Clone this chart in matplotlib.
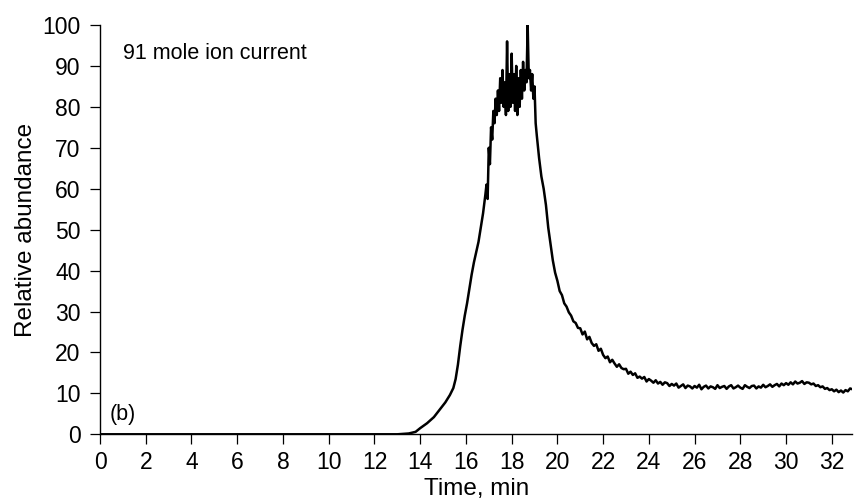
"""
91 mole ion current の時間プロファイル（相対存在量）を描く。
"""

import numpy as np
import matplotlib
matplotlib.use("Agg")
import matplotlib.pyplot as plt

matplotlib.rcParams["font.family"] = ["Liberation Sans", "DejaVu Sans"]

# ── 立ち上がり（手で読み取り）──
rise_time = [0.0, 6.0, 13.0, 13.5, 13.8, 14.0, 14.3, 14.6, 14.85, 15.1, 15.3,
             15.45, 15.55, 15.65, 15.75, 15.85, 15.95, 16.05, 16.15, 16.25,
             16.35, 16.45, 16.55, 16.65, 16.75, 16.85, 16.9, 16.95, 17.0,
             17.05, 17.1, 17.15, 17.2, 17.25, 17.3, 17.35, 17.4]
rise_val = [0.0, 0.0, 0.0, 0.2, 0.6, 1.5, 2.7, 4.2, 6.0, 7.8, 9.6,
            11.3, 13.5, 17.0, 21.5, 25.5, 29.0, 32.0, 35.5, 39.0,
            42.0, 44.5, 47.0, 50.5, 54.0, 58.5, 61.0, 57.5, 70.0,
            66.0, 75.0, 72.0, 79.0, 76.0, 82.0, 78.0, 84.0]

# ── ピーク（ノイズの多い領域）──
peak_time = [17.45, 17.5, 17.55, 17.6, 17.65, 17.7, 17.75, 17.8, 17.85, 17.9,
             17.95, 18.0, 18.05, 18.1, 18.15, 18.2, 18.25, 18.3, 18.35, 18.4,
             18.45, 18.5, 18.55, 18.6, 18.65, 18.7, 18.75, 18.8, 18.85, 18.9,
             18.95, 19.0, 19.05, 19.1]
peak_val = [79, 87, 81, 89, 80, 86, 78, 96, 79, 88,
            80, 93, 81, 88, 79, 90, 78, 87, 80, 89,
            82, 91, 84, 89, 86, 100, 87, 89, 84, 88,
            82, 85, 76, 73]

fall_time = [19.2, 19.3, 19.4, 19.5, 19.6, 19.7, 19.8, 19.9, 20.0, 20.1,
             20.2, 20.3, 20.4, 20.5, 20.6, 20.7, 20.8, 20.9]
fall_val = [67.5, 63.0, 60.0, 56.0, 50.5, 46.5, 42.5, 39.5, 37.5, 35.0,
            34.0, 32.0, 31.2, 29.8, 29.0, 27.6, 27.2, 26.0]

# ── テール部（21.0〜32.9 min、0.1 min 刻み）──
tail_val = [
    25.9, 24.4, 25.1, 23.2, 23.8, 22.3, 21.6, 22.0, 20.4, 20.9,
    19.4, 18.6, 19.0, 17.6, 18.2, 17.3, 16.5, 17.1, 16.2, 15.9,
    16.0, 14.8, 15.3, 14.5, 14.9, 13.8, 14.1, 13.6, 14.0, 12.9,
    13.5, 13.1, 12.6, 13.2, 12.4, 12.8, 12.1, 12.7, 12.5, 11.8,
    12.3, 11.9, 12.4, 11.4, 11.8, 12.2, 11.3, 11.9, 11.7, 11.2,
    11.8, 11.4, 12.1, 11.0, 11.6, 11.9, 11.2, 11.7, 11.5, 11.1,
    12.0, 11.3, 11.6, 11.8, 11.1, 11.7, 12.0, 11.2, 11.5, 11.9,
    11.4, 11.1, 12.0, 11.6, 11.3, 11.8, 11.9, 11.2, 11.7, 11.4,
    12.1, 11.5, 11.8, 12.2, 11.6, 12.0, 12.3, 11.7, 12.4, 12.0,
    12.5, 12.1, 12.7, 12.2, 12.9, 12.4, 12.6, 13.0, 12.3, 12.7,
    12.6, 12.2, 12.4, 11.8, 12.0, 11.5, 11.7, 11.1, 11.3, 10.8,
    11.0, 10.5, 10.9, 10.3, 10.7, 10.2, 10.8, 10.5, 11.2, 11.0,
]
tail_time = 21.0 + 0.1 * np.arange(len(tail_val))

X_TICKS = list(range(0, 33, 2))
Y_TICKS = list(range(0, 101, 10))


def main():
    t = np.concatenate([rise_time, peak_time, fall_time, tail_time])
    v = np.concatenate([rise_val, peak_val, fall_val, tail_val])

    fig = plt.figure(figsize=(8.63, 5.04), dpi=100)
    ax = fig.add_axes([0.1159, 0.1383, 0.9877 - 0.1159, 0.9504 - 0.1383])

    ax.plot(t, v, color="black", lw=1.8, solid_joinstyle="round")

    ax.set_xlim(0, 32.9)
    ax.set_ylim(0, 100)
    ax.set_xticks(X_TICKS)
    ax.set_yticks(Y_TICKS)
    ax.spines["top"].set_visible(False)
    ax.spines["right"].set_visible(False)
    for s in ("left", "bottom"):
        ax.spines[s].set_linewidth(1.0)
    ax.tick_params(axis="both", direction="out", length=7, width=0.9,
                   labelsize=16.5)
    ax.tick_params(axis="y", pad=7)
    ax.tick_params(axis="x", pad=5)

    ax.set_xlabel("Time, min", fontsize=17.5, labelpad=3)
    ax.set_ylabel("Relative abundance", fontsize=17.5, labelpad=4)

    ax.text(1.0, 93, "91 mole ion current", fontsize=15.5, va="center")
    ax.text(0.4, 4.8, "(b)", fontsize=15.5, va="center")

    fig.savefig("out.png", dpi=100)
    plt.close(fig)


if __name__ == "__main__":
    main()
